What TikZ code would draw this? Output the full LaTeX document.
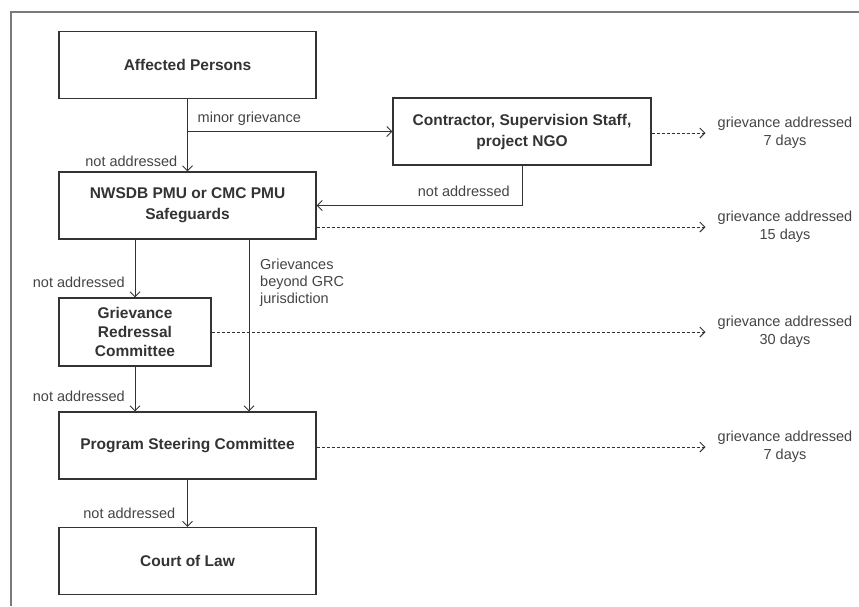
\documentclass[tikz,border=0pt]{standalone}
\usepackage{fontspec}
\setmainfont{Liberation Sans}
\usetikzlibrary{arrows.meta,positioning}
\definecolor{edgegray}{HTML}{333333}
\definecolor{labelgray}{HTML}{444444}
\definecolor{framegray}{HTML}{7A7A7A}

\begin{document}
\begin{tikzpicture}[x=1pt,y=-1pt,
    every node/.style={font=\fontsize{14.5}{18}\selectfont,text=labelgray},
    box/.style={draw=edgegray,line width=1.1pt,minimum width=257pt,minimum height=67pt,
      align=center,text=edgegray,font=\fontsize{15.5}{21}\selectfont\bfseries},
    arr/.style={draw=edgegray,line width=1pt,-{Straight Barb[length=5pt,width=10pt]}},
    dasharr/.style={arr,dash pattern=on 3pt off 2pt},
    lbl/.style={inner sep=0pt},
    note/.style={align=center,inner sep=0pt}]
  \useasboundingbox (0,0) rectangle (859,606);
  \draw[framegray,line width=1.5pt] (11,606) -- (11,12) -- (859,12);

  % boxes
  \node[box] (ap) at (187.5,65) {Affected Persons};
  \node[box,minimum width=258pt] (con) at (522,131.5) {Contractor, Supervision Staff,\\project NGO};
  \node[box] (pmu) at (187.5,205.5) {NWSDB PMU or CMC PMU\\Safeguards};
  \node[box,minimum width=152pt,minimum height=68pt,font=\fontsize{15.5}{19}\selectfont\bfseries] (grc) at (135,332) {Grievance\\Redressal\\Committee};
  \node[box] (psc) at (187.5,445.5) {Program Steering Committee};
  \node[box] (court) at (187.5,561) {Court of Law};

  % outcomes
  \node[note] (r1) at (785,133) {grievance addressed\\7 days};
  \node[note] (r2) at (785,227) {grievance addressed\\15 days};
  \node[note] (r3) at (785,332) {grievance addressed\\30 days};
  \node[note] (r4) at (785,447) {grievance addressed\\7 days};

  % escalation
  \draw[arr] (ap) -- (pmu);
  \node[lbl,anchor=base east] (na1) at ([xshift=-10pt,yshift=5pt]pmu.north) {not addressed};
  \draw[arr] (ap.south |- con.west) -- (con.west);
  \node[lbl,anchor=base west] (minor) at ([xshift=10pt,yshift=9pt]ap.south |- con.west) {minor grievance};
  \draw[arr] (con.south) |- (pmu.east);
  \node[lbl,anchor=base east] (na2) at ([xshift=-12pt,yshift=9pt]con.south |- pmu.east) {not addressed};
  \draw[arr] (grc.north |- pmu.south) -- (grc.north);
  \node[lbl,anchor=base east] (na3) at ([xshift=-10pt,yshift=10pt]grc.north) {not addressed};
  \coordinate (gb) at ([xshift=61.5pt]pmu.south);
  \draw[arr] (gb) -- (gb |- psc.north);
  \node[lbl,anchor=north west,align=left,font=\fontsize{14.5}{17}\selectfont] (beyond) at ([xshift=11pt,yshift=-19pt]gb) {Grievances\\beyond GRC\\jurisdiction};
  \draw[arr] (grc.south) -- (grc.south |- psc.north);
  \node[lbl,anchor=base east] (na4) at ([xshift=-10pt,yshift=10pt]grc.south |- psc.north) {not addressed};
  \draw[arr] (psc) -- (court);
  \node[lbl,anchor=base east] (na5) at ([xshift=-12pt,yshift=8pt]court.north) {not addressed};

  % resolved
  \draw[dasharr] (con.east |- r1) -- ([xshift=-12pt]r1.west);
  \draw[dasharr] (pmu.east |- r2) -- ([xshift=-12pt]r2.west);
  \draw[dasharr] (grc.east |- r3) -- ([xshift=-12pt]r3.west);
  \draw[dasharr] (psc.east |- r4) -- ([xshift=-12pt]r4.west);
\end{tikzpicture}
\end{document}
